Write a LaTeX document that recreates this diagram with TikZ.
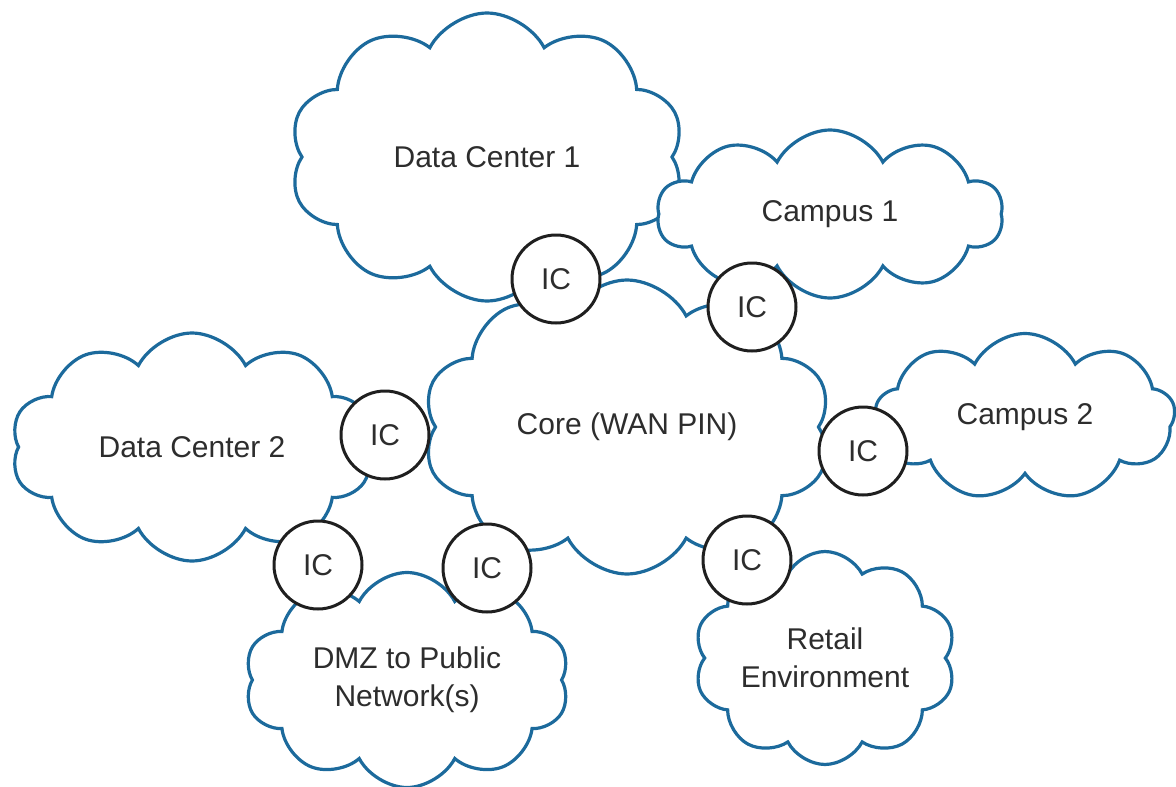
\documentclass[tikz,border=0pt]{standalone}
\usepackage{fontspec}
\setmainfont{Liberation Sans}
\usetikzlibrary{shapes.symbols}
\definecolor{cloudblue}{RGB}{28,106,156}
\definecolor{labelgray}{RGB}{45,45,45}
\begin{document}
\begin{tikzpicture}[x=1pt,y=-1pt,
  net/.style={cloud, cloud puffs=#1, cloud puff arc=125, cloud ignores aspect,
    draw=cloudblue, line width=3.2pt, fill=white, text=labelgray, align=center,
    inner sep=0pt, font=\fontsize{30}{38}\selectfont},
  ic/.style={circle, draw=black!88, line width=3pt, fill=white,
    minimum size=88pt, inner sep=0pt, text=labelgray,
    font=\fontsize{30}{36}\selectfont}]
\useasboundingbox (0,0) rectangle (1176,787);

% sites
\node[net=10, minimum width=395pt, minimum height=288pt, shape border rotate=10] (dc1) at (487,157) {Data Center 1};
\node[net=10, minimum width=346pt, minimum height=168pt] (campus1) at (830,214) {Campus 1};
\node[net=9, minimum width=300pt, minimum height=167pt, shape border rotate=5] (campus2) at (1025,417) {Campus 2};
\node[net=10, minimum width=362pt, minimum height=228pt] (dc2) at (192,447) {Data Center 2};
\node[net=10, minimum width=325pt, minimum height=215pt, shape border rotate=15] (dmz) at (407,680) {DMZ to Public\\Network(s)};
\node[net=10, minimum width=262pt, minimum height=213pt] (retail) at (825,658) {Retail\\Environment};
% core network
\node[net=10, minimum width=408pt, minimum height=294pt, shape border rotate=20] (core) at (627,427) {Core (WAN PIN)};

% interconnection points
\node[ic] (ic1) at (556,279) {IC};
\node[ic] (ic2) at (752,307) {IC};
\node[ic] (ic3) at (385,435) {IC};
\node[ic] (ic4) at (863,451) {IC};
\node[ic] (ic5) at (747,560) {IC};
\node[ic] (ic6) at (487,568) {IC};
\node[ic] (ic7) at (318,565) {IC};
\end{tikzpicture}
\end{document}
